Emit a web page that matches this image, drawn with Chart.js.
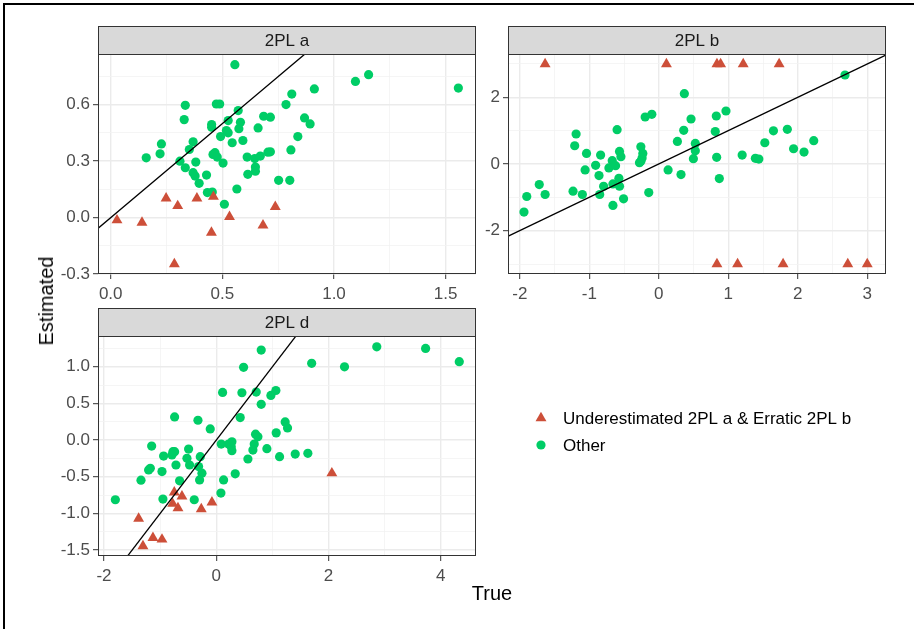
<!DOCTYPE html>
<html><head><meta charset="utf-8">
<script src="https://cdn.jsdelivr.net/npm/chart.js@4/dist/chart.umd.min.js"></script>
<style>
html,body{margin:0;padding:0;background:#fff;width:914px;height:629px;overflow:hidden;position:relative;}
canvas{position:absolute;left:0;top:0;}
#frame{position:absolute;left:3px;top:3px;width:940px;height:660px;border:2px solid #000;box-sizing:border-box;}
.ttl{position:absolute;font-family:"Liberation Sans",Arial,sans-serif;font-size:20px;color:#000;white-space:nowrap;line-height:1;}
</style></head><body>
<div id="frame"></div>
<canvas id="ca" width="914" height="629"></canvas>
<canvas id="cb" width="914" height="629"></canvas>
<canvas id="cd" width="914" height="629"></canvas>
<canvas id="cl" width="914" height="629"></canvas>
<div class="ttl" style="left:492px;top:593px;transform:translate(-50%,-50%);">True</div>
<div class="ttl" style="left:46px;top:301px;transform:translate(-50%,-50%) rotate(-90deg);">Estimated</div>
<script>
// ---------- data ----------
const groupLabels = ['Underestimated 2PL a & Erratic 2PL b', 'Other'];
const stripLabels = ['2PL a', '2PL b', '2PL d'];

// 2PL a
const aOtherTrue = [0.556,1.155,1.096,0.912,1.557,0.811,0.785,0.334,0.473,0.488,0.571,0.329,0.685,0.715,0.526,0.452,0.452,0.581,0.574,0.660,0.868,0.893,0.518,0.526,0.492,0.838,0.592,0.544,0.369,0.227,0.352,0.221,0.159,0.467,0.458,0.477,0.310,0.381,0.503,0.611,0.645,0.670,0.704,0.715,0.807,0.334,0.369,0.378,0.429,0.648,0.648,0.614,0.396,0.752,0.802,0.565,0.433,0.455,0.509];
const aOtherEst  = [0.813,0.760,0.724,0.684,0.689,0.657,0.601,0.597,0.604,0.604,0.569,0.521,0.539,0.534,0.516,0.495,0.481,0.507,0.473,0.477,0.530,0.498,0.463,0.451,0.431,0.431,0.410,0.398,0.403,0.392,0.362,0.339,0.318,0.345,0.336,0.322,0.300,0.295,0.290,0.322,0.314,0.327,0.348,0.350,0.360,0.265,0.239,0.221,0.226,0.269,0.247,0.230,0.182,0.198,0.198,0.152,0.133,0.136,0.071];
const aUnderTrue = [0.028,0.140,0.248,0.300,0.386,0.460,0.451,0.532,0.682,0.737,0.285];
const aUnderEst  = [-0.014,-0.027,0.102,0.062,0.102,0.111,-0.080,0.004,-0.041,0.057,-0.247];

// 2PL b
const bOtherTrue = [2.68,0.368,0.967,-0.10,-0.196,0.828,0.464,-1.19,-0.60,0.359,0.813,1.65,1.85,2.23,0.268,0.526,-1.21,1.526,-0.258,0.526,1.94,2.09,-1.04,-0.837,-0.565,-0.545,-0.23,-0.24,-0.258,-0.278,0.498,0.833,1.20,1.39,1.44,-0.909,-0.67,-0.718,-0.622,-1.06,-0.86,0.134,0.32,0.871,-0.574,-1.72,-0.794,-0.565,-0.66,-1.234,-1.10,-1.636,-1.90,-0.85,-0.144,-0.507,-0.66,-1.94];
const bOtherEst  = [2.67,2.11,1.59,1.49,1.41,1.44,1.35,0.90,1.03,1.01,0.975,0.995,1.04,0.70,0.677,0.617,0.547,0.637,0.517,0.398,0.458,0.358,0.318,0.269,0.378,0.219,0.318,0.179,0.080,0.04,0.159,0.199,0.269,0.169,0.149,-0.04,0.10,-0.119,-0.05,-0.179,-0.348,-0.179,-0.318,-0.438,-0.428,-0.617,-0.667,-0.667,-0.597,-0.816,-0.915,-0.915,-0.975,-0.915,-0.856,-1.045,-1.244,-1.443];
const bUnderTrue = [-1.636,0.110,0.837,0.890,1.215,1.732,0.837,1.134,1.789,2.72,3.0];
const bUnderEst  = [3,3,3,3,3,3,-3,-3,-3,-3,-3];

// 2PL d
const dOtherTrue = [0.801,2.86,3.73,4.33,1.70,2.285,0.487,0.113,0.457,0.712,0.973,1.062,0.801,-0.742,-0.326,0.427,-0.107,1.228,1.27,1.068,0.70,0.742,0.089,0.22,0.279,0.267,0.279,0.677,0.653,0.902,-1.151,-0.493,-0.772,-0.742,-0.938,-0.789,-0.522,-0.285,0.564,1.128,1.407,1.632,-0.475,-0.718,-1.175,-1.205,-0.315,-0.967,-0.255,0.338,-1.341,-0.653,-0.297,0.131,0.083,-0.95,-0.392,-1.798];
const dOtherEst  = [1.228,1.273,1.25,1.07,1.047,1.00,0.993,0.650,0.646,0.655,0.609,0.677,0.488,0.316,0.271,0.307,0.153,0.248,0.167,0.099,0.081,0.045,-0.054,-0.054,-0.023,-0.09,-0.144,-0.054,-0.135,-0.117,-0.081,-0.122,-0.158,-0.158,-0.217,-0.203,-0.248,-0.226,-0.257,-0.226,-0.19,-0.18,-0.339,-0.339,-0.384,-0.406,-0.361,-0.429,-0.451,-0.46,-0.546,-0.555,-0.542,-0.542,-0.722,-0.804,-0.813,-0.813];
const dUnderTrue = [2.06,-0.748,-0.611,-0.777,-0.682,-0.267,-0.077,-1.383,-1.128,-0.967,-1.306];
const dUnderEst  = [-0.451,-0.713,-0.767,-0.867,-0.926,-0.939,-0.849,-1.07,-1.332,-1.354,-1.445];

// axis ticks
const aXTicks = [0, 0.5, 1.0, 1.5];            const aXLabels = ['0.0','0.5','1.0','1.5'];
const aXMinor = [0.25, 0.75, 1.25];
const aYTicks = [-0.3, 0, 0.3, 0.6];           const aYLabels = ['-0.3','0.0','0.3','0.6'];
const aYMinor = [-0.15, 0.15, 0.45, 0.75];
const bXTicks = [-2,-1,0,1,2,3];               const bXLabels = ['-2','-1','0','1','2','3'];
const bXMinor = [-1.5,-0.5,0.5,1.5,2.5];
const bYTicks = [-2,0,2];                      const bYLabels = ['-2','0','2'];
const bYMinor = [-3,-1,1,3];
const dXTicks = [-2,0,2,4];                    const dXLabels = ['-2','0','2','4'];
const dXMinor = [-1,1,3];
const dYTicks = [-1.5,-1,-0.5,0,0.5,1];        const dYLabels = ['-1.5','-1.0','-0.5','0.0','0.5','1.0'];
const dYMinor = [-1.25,-0.75,-0.25,0.25,0.75,1.25];

// identity reference line (y = x) end points
const aRef = [-0.2, 1.8];
const bRef = [-2.5, 3.5];
const dRef = [-2.5, 5];

// ---------- style ----------
const RED = '#CD4F39';
const GREEN = '#00CD66';
const FONT = '"Liberation Sans", Arial, sans-serif';
const FS = 17;

const panelPlugin = {
  id: 'panel',
  afterDraw(chart, args, opts) {
    const {ctx, chartArea: a} = chart;
    ctx.save();
    ctx.strokeStyle = '#333333';
    ctx.lineWidth = 1;
    ctx.strokeRect(Math.round(a.left) + 0.5, Math.round(a.top) + 0.5, Math.round(a.width) - 1, Math.round(a.height) - 1);
    const sh = 28;
    ctx.fillStyle = '#D9D9D9';
    ctx.fillRect(a.left, a.top - sh, a.width, sh);
    ctx.strokeRect(Math.round(a.left) + 0.5, Math.round(a.top - sh) + 0.5, Math.round(a.width) - 1, sh);
    ctx.fillStyle = '#1A1A1A';
    ctx.font = FS + 'px ' + FONT;
    ctx.textAlign = 'center';
    ctx.textBaseline = 'middle';
    ctx.fillText(opts.text, (a.left + a.right) / 2, a.top - sh / 2 + 1);
    ctx.restore();
  }
};

function axis(kind, min, max, major, labels, minor, size) {
  return {
    type: 'linear', min, max,
    position: kind === 'x' ? 'bottom' : 'left',
    afterBuildTicks: sc => {
      sc.ticks = major.map(v => ({value: v, isMajor: true}))
        .concat(minor.map(v => ({value: v, isMajor: false})))
        .sort((p, q) => p.value - q.value);
    },
    afterFit: sc => { if (kind === 'x') sc.height = size; else sc.width = size; },
    border: {display: false},
    grid: {
      color: c => (c.tick && c.tick.isMajor) ? '#EBEBEB' : '#F2F2F2',
      lineWidth: c => (c.tick && c.tick.isMajor) ? 1.4 : 0.8,
      tickColor: c => (c.tick && c.tick.isMajor) ? '#333333' : 'rgba(0,0,0,0)',
      tickWidth: 1,
      tickLength: 5,
      drawTicks: true
    },
    ticks: {
      autoSkip: false, maxRotation: 0, minRotation: 0, padding: kind === 'x' ? 5 : 3,
      color: '#4D4D4D', font: {family: FONT, size: FS},
      callback: (v, i, t) => t[i] && t[i].isMajor ? labels[major.indexOf(v)] : ''
    }
  };
}

function panel(id, c) {
  return new Chart(document.getElementById(id), {
    type: 'scatter',
    data: {datasets: [
      {label: 'y = x', data: c.ref.map(v => ({x: v, y: v})), showLine: true, borderColor: '#000', borderWidth: 1.3, pointRadius: 0, order: 0},
      {label: groupLabels[0], data: c.ux.map((x, i) => ({x, y: c.uy[i]})), pointStyle: 'triangle', pointRadius: 6.3, backgroundColor: RED, borderWidth: 0, order: 1},
      {label: groupLabels[1], data: c.ox.map((x, i) => ({x, y: c.oy[i]})), pointStyle: 'circle', pointRadius: 4.6, backgroundColor: GREEN, borderWidth: 0, order: 2}
    ]},
    options: {
      responsive: false, animation: false, events: [],
      layout: {padding: {left: 0, top: c.top, right: c.right, bottom: c.bottom}},
      plugins: {legend: {display: false}, tooltip: {enabled: false}, panel: {text: c.strip}},
      scales: {
        x: axis('x', c.xMin, c.xMax, c.xT, c.xL, c.xM, 40),
        y: axis('y', c.yMin, c.yMax, c.yT, c.yL, c.yM, c.yW)
      }
    },
    plugins: [panelPlugin]
  });
}

panel('ca', {strip: stripLabels[0], ox: aOtherTrue, oy: aOtherEst, ux: aUnderTrue, uy: aUnderEst, ref: aRef,
  xMin: -0.057, xMax: 1.636, yMin: -0.30, yMax: 0.87,
  xT: aXTicks, xL: aXLabels, xM: aXMinor, yT: aYTicks, yL: aYLabels, yM: aYMinor,
  yW: 98, top: 54, right: 914 - 476, bottom: 629 - 274 - 40});
panel('cb', {strip: stripLabels[1], ox: bOtherTrue, oy: bOtherEst, ux: bUnderTrue, uy: bUnderEst, ref: bRef,
  xMin: -2.17, xMax: 3.27, yMin: -3.3, yMax: 3.3,
  xT: bXTicks, xL: bXLabels, xM: bXMinor, yT: bYTicks, yL: bYLabels, yM: bYMinor,
  yW: 508, top: 54, right: 914 - 886, bottom: 629 - 274 - 40});
panel('cd', {strip: stripLabels[2], ox: dOtherTrue, oy: dOtherEst, ux: dUnderTrue, uy: dUnderEst, ref: dRef,
  xMin: -2.107, xMax: 4.628, yMin: -1.58, yMax: 1.42,
  xT: dXTicks, xL: dXLabels, xM: dXMinor, yT: dYTicks, yL: dYLabels, yM: dYMinor,
  yW: 98, top: 336, right: 914 - 476, bottom: 629 - 556 - 40});

// legend
const keyPlugin = {
  id: 'keyLegend',
  afterDraw(chart, args, o) {
    const ctx = chart.ctx;
    ctx.save();
    chart.data.datasets.forEach((ds, i) => {
      const y = o.y + i * o.dy;
      ctx.fillStyle = ds.backgroundColor;
      ctx.strokeStyle = ds.backgroundColor;
      Chart.helpers.drawPoint(ctx, {pointStyle: ds.pointStyle, radius: ds.pointRadius, rotation: 0, borderWidth: 0}, o.x, y);
      ctx.fillStyle = '#000';
      ctx.font = FS + 'px ' + FONT;
      ctx.textAlign = 'left';
      ctx.textBaseline = 'middle';
      ctx.fillText(ds.label, o.textX, y + 1);
    });
    ctx.restore();
  }
};
new Chart(document.getElementById('cl'), {
  type: 'scatter',
  data: {datasets: [
    {label: groupLabels[0], data: [], pointStyle: 'triangle', pointRadius: 6.3, backgroundColor: RED},
    {label: groupLabels[1], data: [], pointStyle: 'circle', pointRadius: 4.6, backgroundColor: GREEN}
  ]},
  options: {
    responsive: false, animation: false, events: [],
    scales: {x: {display: false}, y: {display: false}},
    plugins: {legend: {display: false}, tooltip: {enabled: false}, keyLegend: {x: 541, y: 418, dy: 27, textX: 563}}
  },
  plugins: [keyPlugin]
});
</script>
</body></html>
